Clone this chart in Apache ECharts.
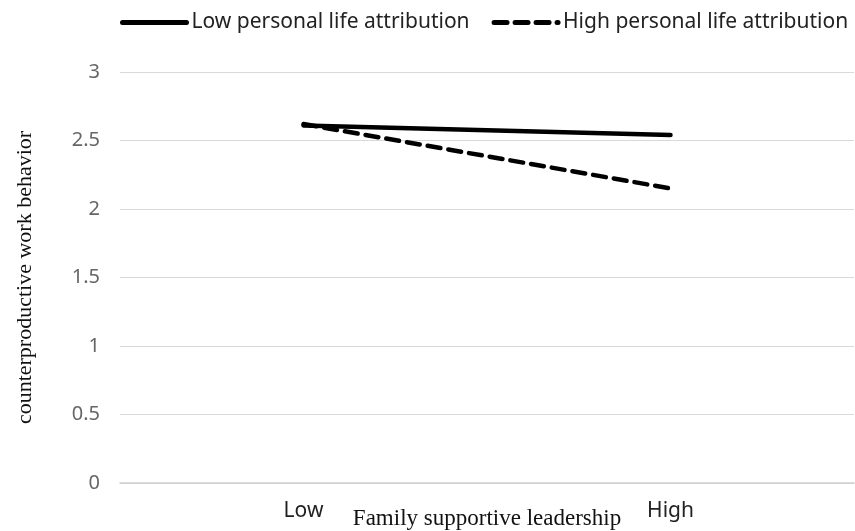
<!DOCTYPE html>
<html>
<head>
<meta charset="utf-8">
<script src="https://cdn.jsdelivr.net/npm/echarts@6/dist/echarts.min.js"></script>
<style>
  html, body { margin: 0; padding: 0; background: #fff; }
  #chart { width: 855px; height: 531px; }
</style>
</head>
<body>
<div id="chart"></div>
<script>
const categories = ['Low', 'High']
const lowAttribution = [2.61, 2.54]
const highAttribution = [2.62, 2.15]
const seriesNames = ['Low personal life attribution', 'High personal life attribution']

const myChart = echarts.init(document.getElementById('chart'))
const option = {
  animation: false,
  legend: {
    left: 120,
    top: 7,
    width: 740,
    padding: [5, 0],
    itemWidth: 64,
    itemHeight: 10,
    itemGap: 22,
    itemStyle: { opacity: 0 },
    lineStyle: { width: 5 },
    textStyle: {
      fontFamily: 'Noto Sans',
      fontSize: 21,
      color: '#222'
    },
    data: seriesNames
  },
  grid: {
    left: 120,
    right: 1,
    top: 72,
    bottom: 48,
    outerBoundsMode: 'none'
  },
  xAxis: {
    type: 'category',
    data: categories,
    boundaryGap: true,
    name: 'Family supportive leadership',
    nameLocation: 'middle',
    nameGap: 24,
    nameMoveOverlap: false,
    nameTextStyle: {
      fontFamily: 'Liberation Serif',
      fontSize: 23,
      color: '#111'
    },
    axisLine: { lineStyle: { color: '#d0d0d0', width: 1.5 } },
    axisTick: { show: false },
    axisLabel: {
      margin: 18,
      fontFamily: 'Noto Sans',
      fontSize: 21,
      color: '#222'
    }
  },
  yAxis: {
    type: 'value',
    min: 0,
    max: 3,
    interval: 0.5,
    name: 'counterproductive work behavior',
    nameLocation: 'middle',
    nameRotate: 90,
    nameGap: 84,
    nameTextStyle: {
      fontFamily: 'Liberation Serif',
      fontSize: 22,
      color: '#111'
    },
    axisLine: { show: false },
    axisTick: { show: false },
    splitLine: { lineStyle: { color: '#d9d9d9', width: 1 } },
    axisLabel: {
      margin: 20,
      fontFamily: 'Noto Sans',
      fontSize: 20,
      color: '#666'
    }
  },
  series: [
    {
      name: seriesNames[0],
      type: 'line',
      data: lowAttribution,
      symbol: 'none',
      lineStyle: { color: '#000', width: 4.5, cap: 'round' },
      itemStyle: { color: '#000' }
    },
    {
      name: seriesNames[1],
      type: 'line',
      data: highAttribution,
      symbol: 'none',
      lineStyle: { color: '#000', width: 4.5, type: [13, 8], cap: 'round' },
      itemStyle: { color: '#000' }
    }
  ]
}
myChart.setOption(option)
window.addEventListener('resize', () => { myChart.resize() })
</script>
</body>
</html>
